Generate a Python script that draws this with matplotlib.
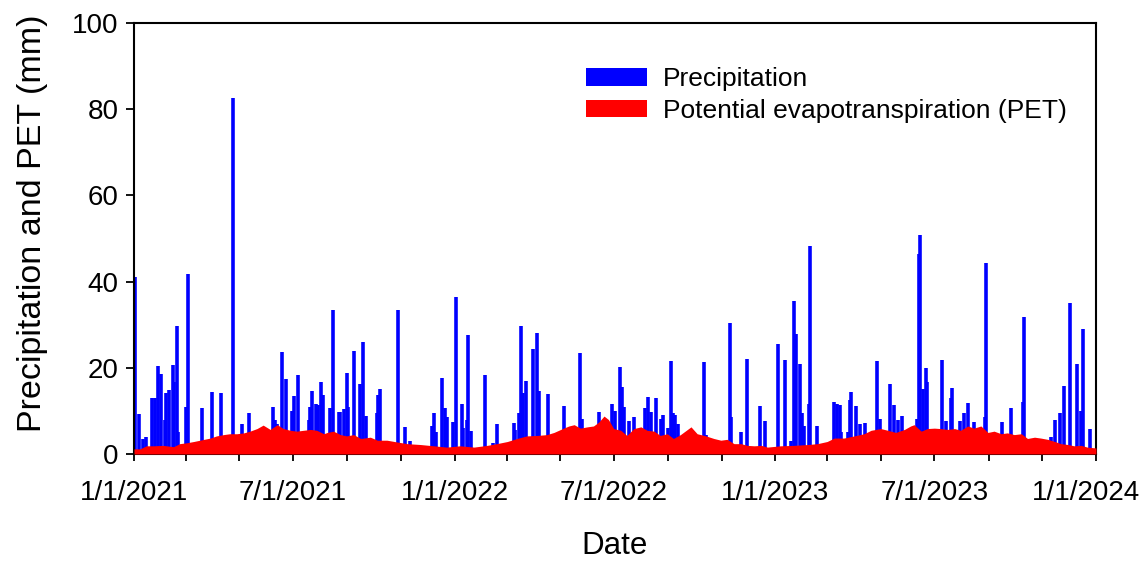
import matplotlib
matplotlib.use("Agg")
import matplotlib.pyplot as plt
import matplotlib.dates as mdates
import matplotlib.transforms as mtransforms
from matplotlib.patches import Patch
import pandas as pd
import numpy as np

plt.rcParams['font.family'] = ['Liberation Sans', 'DejaVu Sans']

start_date = "2021-01-01"
end_date = "2024-01-01"

# Precipitation events: day offset from start_date, amount (mm)
precip_day = [1, 6, 10, 14, 21, 24, 27, 31, 35, 36, 40, 44, 46, 49, 50, 59, 61, 77, 89, 99,
              100, 113, 123, 131, 158, 160, 163, 169, 173, 180, 182,
              187, 199, 200, 203, 207, 209, 213, 215, 223, 227, 233, 235, 239, 242, 244, 250,
              257, 261, 264, 277, 278, 280, 300, 308, 314, 339, 342, 344, 351, 354, 356, 363,
              366, 373, 375, 379, 380, 384, 399, 409, 413, 432, 434, 438, 441, 443, 446, 454,
              459, 461, 471, 490, 508, 510, 529, 544, 547, 553, 556, 558, 564, 569, 582, 585,
              588, 594, 600, 602, 608, 611, 613, 616, 619, 649, 651, 678, 680, 691, 698, 712,
              718, 733, 741, 748, 751, 754, 758, 760, 763, 768, 770, 777, 797, 800, 804, 805,
              813, 815, 816, 822, 826, 832, 846, 849, 861, 865, 870, 874, 891, 893, 895, 898,
              901, 903, 920, 924, 930, 931, 940, 945, 949, 956, 969, 970, 988, 998, 1012, 1013,
              1044, 1048, 1054, 1059, 1065, 1073, 1078, 1080, 1088]
precip_mm = [41.0, 9.3, 3.5, 4.0, 13.0, 13.0, 20.4, 18.6, 8.0, 14.1, 14.8, 20.6, 16.8, 29.7, 5.0, 11.0, 41.7, 10.6, 14.4, 14.1,
             4.0, 82.5, 7.0, 9.4, 11.0, 8.0, 7.0, 23.6, 17.5, 10.0, 13.4,
             18.3, 7.9, 10.9, 14.7, 11.6, 11.4, 16.6, 13.7, 10.7, 33.4, 9.7, 9.7, 10.4, 18.7, 11.0, 23.9,
             16.2, 26.1, 8.9, 9.6, 13.7, 15.0, 33.3, 6.2, 3.1, 6.5, 9.6, 5.0, 17.7, 10.7, 8.6, 7.5,
             36.5, 11.5, 6.0, 8.0, 27.6, 5.3, 18.3, 2.6, 7.0, 7.3, 5.5, 9.4, 29.7, 14.2, 17.0, 24.3,
             28.0, 14.6, 13.9, 11.1, 23.5, 8.2, 9.8, 11.6, 10.0, 20.3, 15.5, 11.0, 7.7, 8.7, 10.6, 13.2,
             9.7, 13.1, 8.2, 9.0, 6.0, 21.6, 9.6, 9.0, 7.0, 21.3, 4.5, 30.3, 8.5, 5.0, 22.0, 11.1,
             7.7, 25.6, 21.8, 3.0, 35.6, 27.8, 20.9, 9.6, 6.5, 11.5, 48.3, 6.6, 12.1, 11.7, 11.4, 5.0,
             5.0, 12.5, 14.3, 11.1, 7.0, 7.1, 21.6, 8.2, 16.2, 11.4, 7.8, 8.8, 8.2, 46.4, 50.8, 15.0,
             19.9, 16.6, 21.8, 7.7, 12.9, 15.2, 7.6, 9.4, 11.8, 7.4, 8.5, 44.4, 7.5, 10.6, 12.1, 31.9,
             4.0, 7.9, 9.4, 15.8, 35.1, 20.8, 10.0, 28.9, 5.7]

# Potential evapotranspiration: day offset from start_date, PET (mm)
pet_day = [0, 7, 14, 22, 33, 45, 52, 60, 68, 75, 87, 94, 102, 109, 117, 125, 132, 140, 147, 155,
           163, 170, 178, 185, 193, 201, 208, 216, 220, 227, 235, 242, 250, 258, 269, 277, 288, 299,
           311, 326, 341, 356, 371, 387, 402, 413, 425, 436, 447, 459, 470, 478, 489, 495, 501, 508,
           516, 523, 529, 535, 540, 546, 554, 561, 569, 577, 584, 592, 599, 607, 614, 622, 634, 641,
           651, 660, 668, 675, 683, 691, 698, 706, 714, 721, 736, 751, 767, 778, 789, 797, 808, 820,
           831, 839, 850, 858, 867, 877, 884, 888, 896, 903, 911, 918, 926, 934, 941, 949, 956, 964,
           972, 979, 987, 994, 1002, 1010, 1017, 1025, 1032, 1040, 1048, 1055, 1063, 1070, 1078,
           1085, 1095]
pet_mm = [1.2, 1.2, 1.9, 1.9, 2.0, 1.7, 2.4, 2.6, 2.9, 3.2, 3.7, 4.2, 4.5, 4.7, 4.7, 4.9, 5.3, 5.9, 6.7, 5.7,
          6.8, 5.9, 5.5, 5.3, 5.5, 5.7, 5.5, 4.7, 5.0, 5.3, 4.5, 4.2, 4.5, 3.6, 3.9, 3.2, 3.2, 2.8,
          2.4, 2.2, 1.9, 1.6, 1.9, 1.6, 2.0, 2.4, 2.9, 3.6, 4.2, 4.3, 4.5, 5.0, 6.0, 6.5, 6.8, 6.0,
          6.3, 6.5, 7.4, 8.8, 8.0, 5.9, 5.5, 4.3, 5.9, 6.3, 5.5, 5.3, 4.3, 4.7, 3.6, 4.5, 6.3, 4.7,
          4.2, 3.6, 3.2, 3.4, 2.4, 2.4, 2.0, 1.9, 2.0, 1.6, 1.9, 2.0, 2.2, 2.4, 2.9, 3.7, 3.7, 4.2,
          4.7, 5.5, 5.9, 5.5, 5.0, 5.7, 6.5, 6.8, 5.3, 5.9, 6.0, 5.9, 5.7, 5.9, 5.5, 6.5, 6.0, 6.5,
          5.0, 5.3, 4.7, 4.9, 4.5, 4.7, 3.6, 3.9, 3.7, 3.4, 2.9, 2.4, 2.2, 1.9, 2.0,
          1.6, 1.4]

t0 = pd.Timestamp(start_date)
p_dates = t0 + pd.to_timedelta(precip_day, unit="D")
e_dates = t0 + pd.to_timedelta(pet_day, unit="D")

fig = plt.figure(figsize=(11.41, 5.61), dpi=100)
ax = fig.add_axes([134/1141, 1-454/561, (1096-134)/1141, (454-23)/561])

ax.vlines(p_dates, 0, precip_mm, color="#0000FF", linewidth=2.6, zorder=2)
ax.fill_between(e_dates, 0, pet_mm, color="#FF0000", linewidth=0, zorder=3)

ax.set_xlim(pd.Timestamp(start_date), pd.Timestamp(end_date))
ax.set_ylim(0, 100)
ax.set_yticks([0, 20, 40, 60, 80, 100])

ax.xaxis.set_major_locator(mdates.MonthLocator(bymonth=[1, 7]))
ax.xaxis.set_minor_locator(mdates.MonthLocator(bymonth=[3, 5, 9, 11]))
ax.xaxis.set_major_formatter(
    matplotlib.ticker.FuncFormatter(lambda v, p: "{d.month}/{d.day}/{d.year}".format(d=mdates.num2date(v))))

ax.tick_params(axis="both", which="both", direction="out", width=1.3, labelsize=20)
ax.tick_params(axis="x", which="both", length=5, pad=14)
ax.tick_params(axis="y", length=6, pad=5)
for s in ax.spines.values():
    s.set_linewidth(1.5)

ax.set_xlabel("Date", fontsize=22.5, labelpad=18)
ax.set_ylabel("Precipitation and PET (mm)", fontsize=24.5)
ax.yaxis.set_label_coords(-0.089, 0.535)

# keep the last date label inside the figure
fig.canvas.draw()
last = ax.get_xticklabels()[-1]
last.set_transform(last.get_transform() + mtransforms.ScaledTranslation(-10/100, 0, fig.dpi_scale_trans))

handles = [Patch(facecolor="#0000FF", edgecolor="none", label="Precipitation"),
           Patch(facecolor="#FF0000", edgecolor="none", label="Potential evapotranspiration (PET)")]
fig.legend(handles=handles, loc="upper left", bbox_to_anchor=(586/1141, 1-67/561),
           frameon=False, fontsize=19, handlelength=2.3, handleheight=0.65,
           handletextpad=0.6, labelspacing=0.3, borderpad=0, borderaxespad=0)

fig.savefig("out.png", dpi=100)
